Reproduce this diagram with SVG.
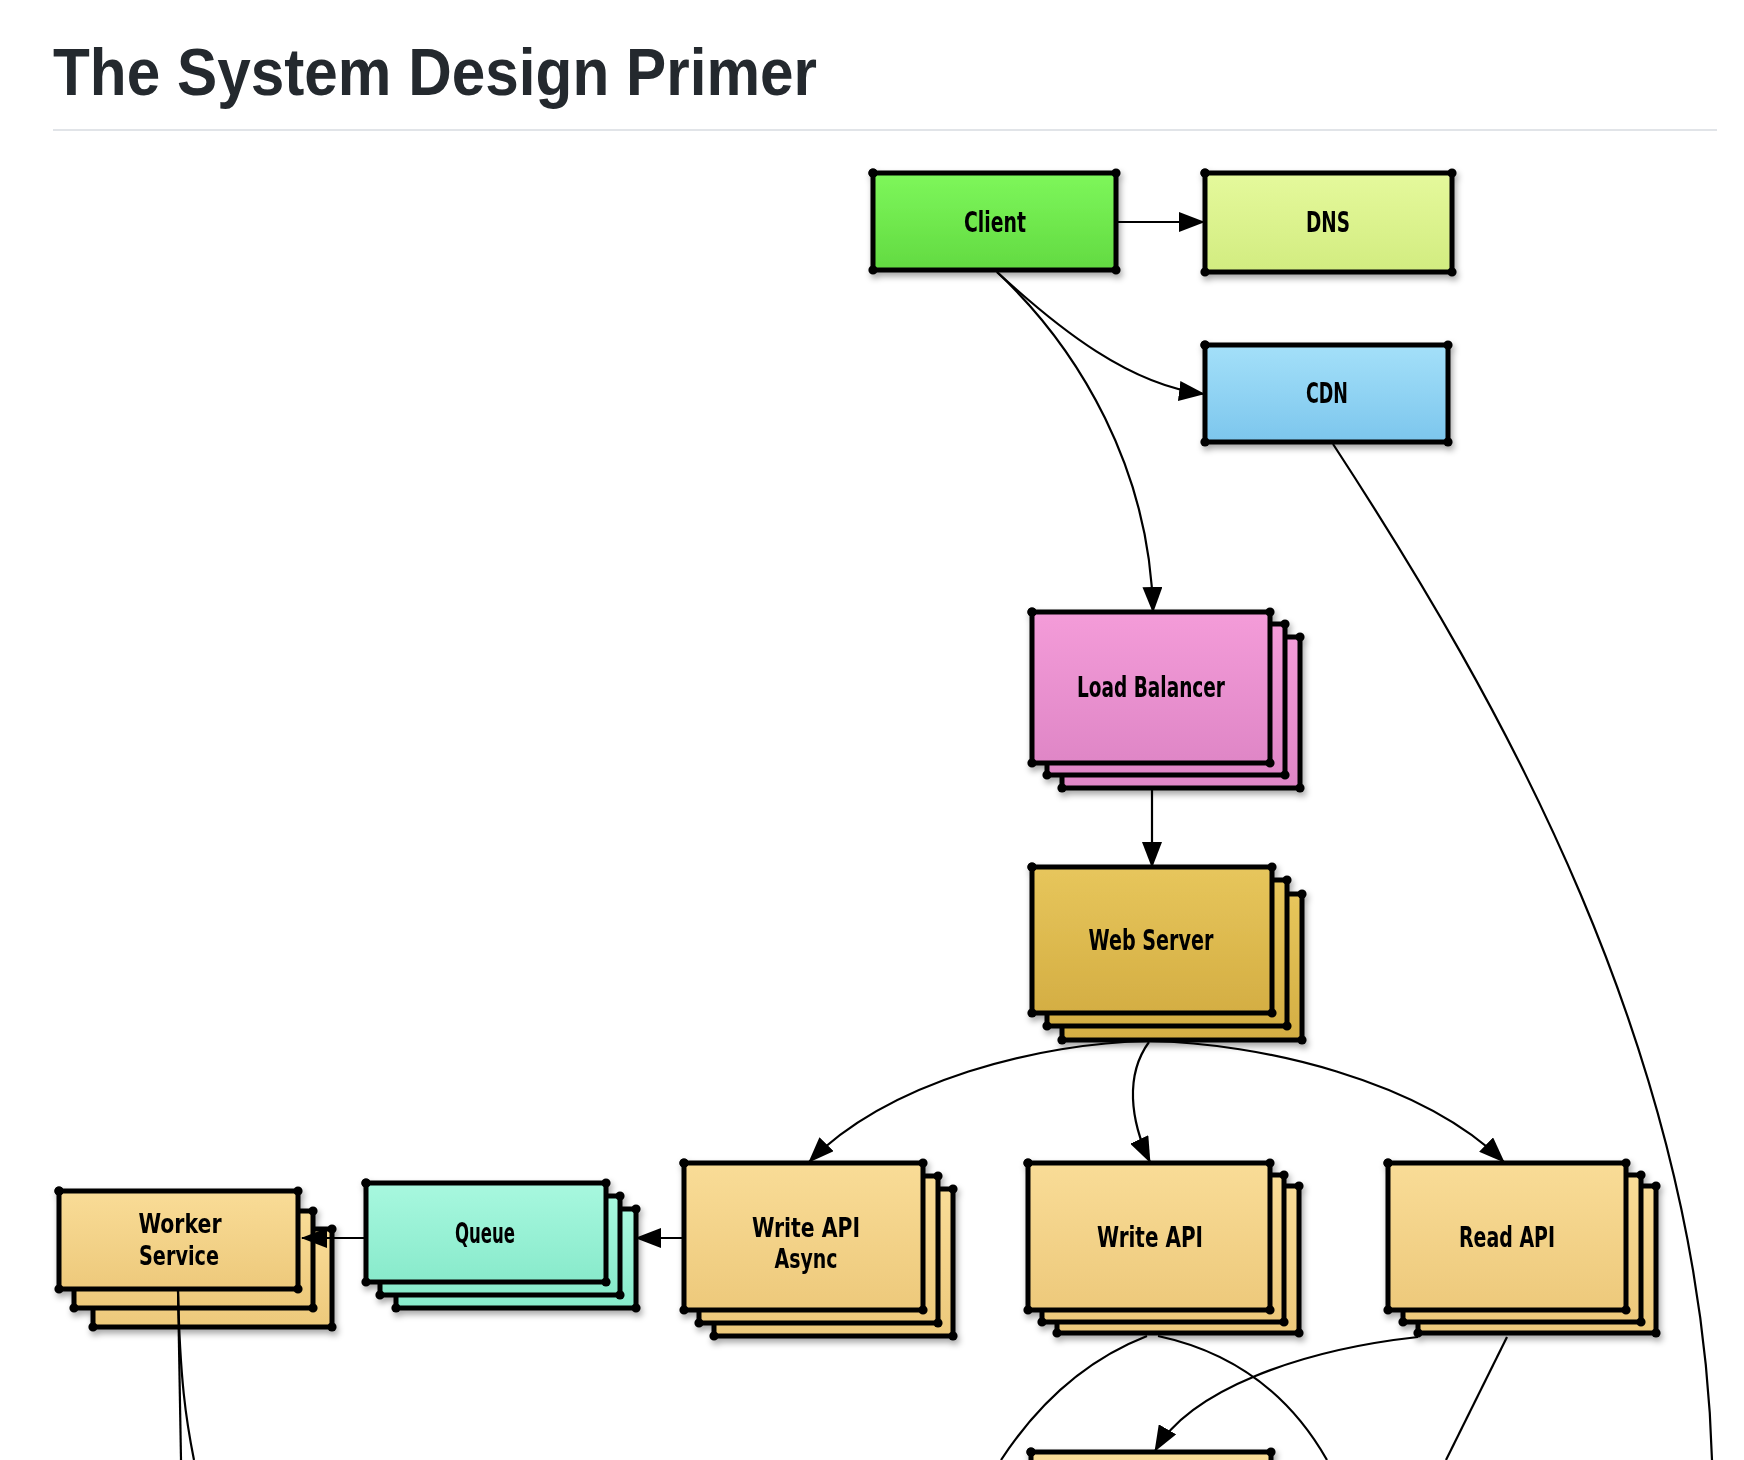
<svg xmlns="http://www.w3.org/2000/svg" width="1744" height="1460" viewBox="0 0 1744 1460">
<defs>
<style>
.box{stroke:#000;stroke-width:5;stroke-linejoin:round;marker-start:url(#dot);marker-mid:url(#dot);marker-end:url(#dot)}
.lbl{font-family:"Liberation Sans Narrow","DejaVu Sans Condensed","Liberation Sans",sans-serif;font-weight:bold;font-size:29px;fill:#000;text-anchor:middle}
.lbl2{font-size:26px}
.edge{fill:none;stroke:#000;stroke-width:2.2}
.arr{marker-end:url(#arrow)}
.green{fill:url(#gGreen)}.dns{fill:url(#gDns)}.cdn{fill:url(#gCdn)}.pink{fill:url(#gPink)}.gold{fill:url(#gGold)}.tan{fill:url(#gTan)}.mint{fill:url(#gMint)}
</style>
<marker id="dot" markerUnits="userSpaceOnUse" markerWidth="12" markerHeight="12" refX="6" refY="6" orient="auto"><circle cx="6" cy="6" r="4.6" fill="#000"/></marker>
<marker id="arrow" markerUnits="userSpaceOnUse" markerWidth="26" markerHeight="20" refX="25" refY="10" orient="auto"><path d="M0,0 L26,10 L0,20 Z" fill="#000"/></marker>
<filter id="sh" x="-10%" y="-10%" width="130%" height="140%"><feDropShadow dx="2" dy="4" stdDeviation="3" flood-color="#000" flood-opacity="0.35"/></filter>
<linearGradient id="gGreen" x1="0" y1="0" x2="0" y2="1"><stop offset="0" stop-color="#7ef75b"/><stop offset="1" stop-color="#62da41"/></linearGradient>
<linearGradient id="gDns" x1="0" y1="0" x2="0" y2="1"><stop offset="0" stop-color="#e5f99c"/><stop offset="1" stop-color="#d2ec80"/></linearGradient>
<linearGradient id="gCdn" x1="0" y1="0" x2="0" y2="1"><stop offset="0" stop-color="#a4e0f9"/><stop offset="1" stop-color="#7cc6ed"/></linearGradient>
<linearGradient id="gPink" x1="0" y1="0" x2="0" y2="1"><stop offset="0" stop-color="#f49cd9"/><stop offset="1" stop-color="#df86c6"/></linearGradient>
<linearGradient id="gGold" x1="0" y1="0" x2="0" y2="1"><stop offset="0" stop-color="#e7c65c"/><stop offset="1" stop-color="#d4ae43"/></linearGradient>
<linearGradient id="gTan" x1="0" y1="0" x2="0" y2="1"><stop offset="0" stop-color="#f9dc97"/><stop offset="1" stop-color="#edc97b"/></linearGradient>
<linearGradient id="gMint" x1="0" y1="0" x2="0" y2="1"><stop offset="0" stop-color="#a8f8df"/><stop offset="1" stop-color="#88eacb"/></linearGradient>
</defs>
<rect width="1744" height="1460" fill="#fff"/>
<g id="header">
<text x="53" y="95" font-family="Liberation Sans, Arial, sans-serif" font-weight="bold" font-size="66" fill="#24292e" textLength="764" lengthAdjust="spacingAndGlyphs">The System Design Primer</text>
<rect x="53" y="129" width="1664" height="2" fill="#e1e4e8"/>
</g>
<g id="client" filter="url(#sh)">
<path class="box green" d="M873,173 H1116 V270 H873 Z"/>
<text class="lbl" x="995" y="232" textLength="62" lengthAdjust="spacingAndGlyphs">Client</text>
</g>
<g id="dns" filter="url(#sh)">
<path class="box dns" d="M1205,173 H1452 V272 H1205 Z"/>
<text class="lbl" x="1328" y="232" textLength="44" lengthAdjust="spacingAndGlyphs">DNS</text>
</g>
<g id="cdn" filter="url(#sh)">
<path class="box cdn" d="M1205,345 H1448 V442 H1205 Z"/>
<text class="lbl" x="1327" y="403" textLength="42" lengthAdjust="spacingAndGlyphs">CDN</text>
</g>
<g id="load-balancer" filter="url(#sh)">
<path class="box pink" d="M1062,637 H1300 V788 H1062 Z"/>
<path class="box pink" d="M1047,624 H1285 V775 H1047 Z"/>
<path class="box pink" d="M1032,612 H1270 V763 H1032 Z"/>
<text class="lbl" x="1151" y="697" textLength="148" lengthAdjust="spacingAndGlyphs">Load Balancer</text>
</g>
<g id="web-server" filter="url(#sh)">
<path class="box gold" d="M1062,894 H1302 V1040 H1062 Z"/>
<path class="box gold" d="M1047,880 H1287 V1026 H1047 Z"/>
<path class="box gold" d="M1032,867 H1272 V1013 H1032 Z"/>
<text class="lbl" x="1151" y="950" textLength="125" lengthAdjust="spacingAndGlyphs">Web Server</text>
</g>
<g id="worker-service" filter="url(#sh)">
<path class="box tan" d="M93,1229 H332 V1327 H93 Z"/>
<path class="box tan" d="M74,1211 H313 V1308 H74 Z"/>
<path class="box tan" d="M59,1191 H298 V1289 H59 Z"/>
<text class="lbl lbl2" x="180" y="1233" textLength="83" lengthAdjust="spacingAndGlyphs">Worker</text>
<text class="lbl lbl2" x="179" y="1265" textLength="80" lengthAdjust="spacingAndGlyphs">Service</text>
</g>
<g id="queue" filter="url(#sh)">
<path class="box mint" d="M396,1209 H636 V1308 H396 Z"/>
<path class="box mint" d="M380,1196 H620 V1295 H380 Z"/>
<path class="box mint" d="M366,1183 H606 V1282 H366 Z"/>
<text class="lbl" x="485" y="1243" textLength="60" lengthAdjust="spacingAndGlyphs">Queue</text>
</g>
<g id="write-api-async" filter="url(#sh)">
<path class="box tan" d="M714,1189 H953 V1336 H714 Z"/>
<path class="box tan" d="M699,1176 H938 V1323 H699 Z"/>
<path class="box tan" d="M684,1163 H923 V1310 H684 Z"/>
<text class="lbl lbl2" x="806" y="1237" textLength="108" lengthAdjust="spacingAndGlyphs">Write API</text>
<text class="lbl lbl2" x="806" y="1268" textLength="63" lengthAdjust="spacingAndGlyphs">Async</text>
</g>
<g id="write-api" filter="url(#sh)">
<path class="box tan" d="M1057,1186 H1299 V1333 H1057 Z"/>
<path class="box tan" d="M1042,1175 H1284 V1322 H1042 Z"/>
<path class="box tan" d="M1028,1163 H1270 V1310 H1028 Z"/>
<text class="lbl" x="1150" y="1247" textLength="106" lengthAdjust="spacingAndGlyphs">Write API</text>
</g>
<g id="read-api" filter="url(#sh)">
<path class="box tan" d="M1418,1186 H1656 V1333 H1418 Z"/>
<path class="box tan" d="M1403,1175 H1641 V1322 H1403 Z"/>
<path class="box tan" d="M1388,1163 H1626 V1310 H1388 Z"/>
<text class="lbl" x="1507" y="1247" textLength="96" lengthAdjust="spacingAndGlyphs">Read API</text>
</g>
<g id="cache-partial" filter="url(#sh)">
<path class="box tan" d="M1031,1452 H1271 V1600 H1031 Z"/>
</g>
<g id="connectors">
<path class="edge arr" d="M1118,222 L1204,222"/>
<path class="edge arr" d="M997,272 C1060,330 1130,385 1204,394"/>
<path class="edge arr" d="M997,272 C1080,350 1150,470 1153,612"/>
<path class="edge" d="M1333,444 C1500,700 1700,1050 1712,1460"/>
<path class="edge arr" d="M1152,788 L1152,867"/>
<path class="edge arr" d="M1149,1041 C1040,1043 890,1080 809,1162"/>
<path class="edge arr" d="M1149,1042 C1125,1075 1130,1120 1150,1162"/>
<path class="edge arr" d="M1149,1041 C1260,1043 1420,1080 1504,1162"/>
<path class="edge arr" d="M683,1238 L636,1238"/>
<path class="edge arr" d="M366,1238 L302,1238"/>
<path class="edge" d="M178,1290 L181,1460"/>
<path class="edge" d="M178,1290 C180,1380 186,1420 194,1460"/>
<path class="edge" d="M1147,1336 Q1060,1370 1001,1460"/>
<path class="edge" d="M1158,1336 Q1270,1360 1327,1460"/>
<path class="edge arr" d="M1418,1337 C1300,1350 1190,1390 1155,1451"/>
<path class="edge" d="M1507,1337 L1446,1460"/>
</g>
</svg>
